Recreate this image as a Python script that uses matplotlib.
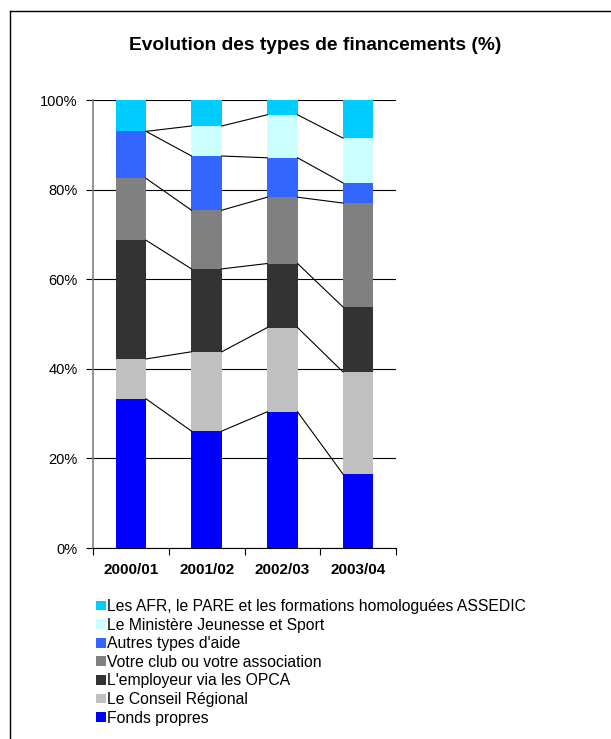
import matplotlib
matplotlib.use("Agg")
import matplotlib.pyplot as plt
import numpy as np
from matplotlib.patches import Patch
from matplotlib.lines import Line2D

plt.rcParams['font.family'] = ['Liberation Sans', 'DejaVu Sans']

years = ["2000/01", "2001/02", "2002/03", "2003/04"]
# stacked from bottom to top
series_names = [
    "Fonds propres",
    "Le Conseil Régional",
    "L'employeur via les OPCA",
    "Votre club ou votre association",
    "Autres types d'aide",
    "Le Ministère Jeunesse et Sport",
    "Les AFR, le PARE et les formations homologuées ASSEDIC",
]
fonds_propres = [33.3, 26.1, 30.4, 16.5]
conseil_regional = [8.9, 17.7, 18.8, 22.8]
employeur_opca = [26.5, 18.5, 14.3, 14.5]
club_association = [13.8, 13.1, 14.8, 23.2]
autres_aides = [10.5, 12.1, 8.8, 4.5]
ministere_js = [0.0, 6.7, 9.6, 10.0]
afr_pare_assedic = [7.0, 5.8, 3.3, 8.5]
series_values = [fonds_propres, conseil_regional, employeur_opca, club_association,
                 autres_aides, ministere_js, afr_pare_assedic]
colors = ["#0000FF", "#C0C0C0", "#333333", "#808080", "#3366FF", "#CCFFFF", "#00CCFF"]
ytick_labels = ["0%", "20%", "40%", "60%", "80%", "100%"]

fig = plt.figure(figsize=(6.11, 7.39), dpi=100)
ax = fig.add_axes([93/611, 1-548/739, (396-93)/611, (548-100)/739])

x = np.arange(len(years))
bw = 0.4
bottom = np.zeros(len(years))
tops = []
for vals, c in zip(series_values, colors):
    v = np.array(vals)
    ax.bar(x, v, bw, bottom=bottom, color=c, edgecolor='none', zorder=3)
    bottom = bottom + v
    tops.append(bottom.copy())

# series lines between bars
for t in tops[:-1]:
    for i in range(len(years) - 1):
        ax.plot([x[i] + bw/2, x[i+1] - bw/2], [t[i], t[i+1]], color='black', lw=0.8, zorder=4)

ax.set_xlim(-0.5, len(years) - 0.5)
ax.set_ylim(0, 100)
ax.set_yticks(np.arange(0, 101, 20))
ax.set_yticklabels(ytick_labels, fontsize=10.5)
ax.yaxis.grid(True, color='black', lw=0.8, zorder=0)
ax.set_axisbelow(True)
ax.set_xticks(x)
ax.set_xticklabels(years, fontsize=11, fontweight='bold')
ax.set_xticks(np.arange(-0.5, len(years)), minor=True)
ax.tick_params(axis='x', which='major', length=0, pad=11)
ax.tick_params(axis='x', which='minor', length=5, width=0.8, direction='out')
ax.tick_params(axis='y', length=5, width=0.8, direction='out', pad=6)
for s in ['top', 'right']:
    ax.spines[s].set_visible(False)
ax.spines['left'].set_color('#808080')
ax.spines['left'].set_linewidth(1.2)
ax.spines['bottom'].set_color('black')
ax.spines['bottom'].set_linewidth(0.8)

fig.text(315/611, 1-46/739, "Evolution des types de financements (%)", ha='center', va='center',
         fontsize=13.8, fontweight='bold')

handles = [Patch(facecolor=c, edgecolor='none') for c in colors][::-1]
labels = series_names[::-1]
fig.legend(handles, labels, loc='upper left', bbox_to_anchor=(96/611, 1-599/739),
           frameon=False, fontsize=11.3, handlelength=0.64, handleheight=0.57,
           handletextpad=0.08, labelspacing=0.23, borderpad=0, borderaxespad=0)

# outer frame (top and left edges visible)
fig.add_artist(Line2D([10/611, 10/611], [0, 1-11/739], transform=fig.transFigure, color='black', lw=1))
fig.add_artist(Line2D([10/611, 1], [1-11/739, 1-11/739], transform=fig.transFigure, color='black', lw=1))

fig.savefig("out.png", dpi=100, facecolor='white')
